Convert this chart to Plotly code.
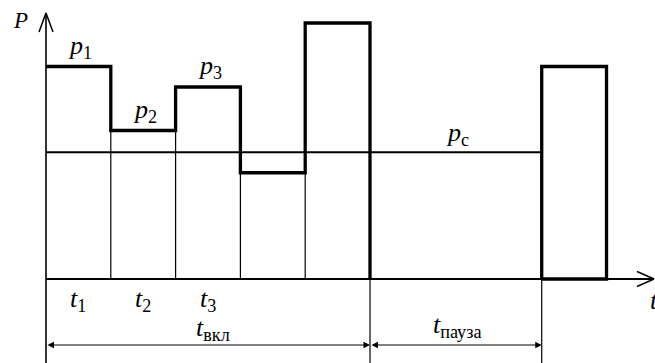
import plotly.graph_objects as go

# ---------------- data ----------------
stage_names = ["1", "2", "3", "4", "5"]
stage_durations = [1.0, 1.0, 1.0, 1.0, 1.0]
stage_powers = [8.3, 5.8, 7.5, 4.15, 10.0]
labelled_stages = ["1", "2", "3"]
pause_duration = 2.65
next_duration = 1.0
next_power = 8.3
p_c = 4.95
label_on = "вкл"
label_pause = "пауза"

# ---------------- geometry ----------------
W, H = 655, 363
X0_PX, Y0_PX = 46, 279      # origin position in the picture
XS, YS = 64.8, 25.6         # px per unit
x_range = [-X0_PX / XS, (W - X0_PX) / XS]
y_range = [-(H - Y0_PX) / YS, Y0_PX / YS]
dx = lambda px: px / XS
dy = lambda px: px / YS

FONT = "Liberation Serif, Times New Roman, serif"
BLACK = "#000000"

# boundaries
bounds = [0.0]
for d in stage_durations:
    bounds.append(bounds[-1] + d)
t_on_end = bounds[-1]
t_pause_end = t_on_end + pause_duration
t_next_end = t_pause_end + next_duration
x_axis_end = x_range[1] - dx(1)
y_axis_end = y_range[1] - dy(13)

fig = go.Figure()

def line(xs, ys, width, color=BLACK):
    fig.add_trace(go.Scatter(x=xs, y=ys, mode="lines",
                             line=dict(color=color, width=width),
                             hoverinfo="skip", showlegend=False))

# y axis (with extension below the t axis)
line([0, 0], [y_range[0], y_axis_end], 1.6)
# open arrowhead on y axis
line([-dx(7), 0, dx(7)], [y_axis_end - dy(19), y_axis_end, y_axis_end - dy(19)], 1.5)
# t axis
line([0, x_axis_end], [0, 0], 2)
line([x_axis_end - dx(17), x_axis_end, x_axis_end - dx(17)], [dy(7.5), 0, -dy(7.5)], 1.5)

# thin verticals at stage boundaries
for i in range(1, len(stage_powers)):
    line([bounds[i], bounds[i]], [0, min(stage_powers[i - 1], stage_powers[i])], 1.2)
# extension lines
for xv in [t_on_end, t_pause_end]:
    line([xv, xv], [y_range[0], 0], 1.2)

# p_c level
line([0, t_pause_end], [p_c, p_c], 2)

# thick load diagram
sx, sy = [0], [stage_powers[0]]
for i, p in enumerate(stage_powers):
    sx += [bounds[i], bounds[i + 1]]
    sy += [p, p]
sx += [t_on_end]
sy += [0]
line(sx, sy, 3.3)
line([t_pause_end, t_pause_end, t_next_end, t_next_end, t_pause_end],
     [0, next_power, next_power, 0, 0], 3.3)

# dimension arrows
dim_y = -dy(66)
for a, b in [(0, t_on_end), (t_on_end, t_pause_end)]:
    fig.add_annotation(x=b, y=dim_y, ax=a, ay=dim_y, xref="x", yref="y",
                       axref="x", ayref="y", text="", showarrow=True,
                       arrowhead=2, startarrowhead=2, arrowside="end+start",
                       arrowsize=1.3, startarrowsize=1.3, arrowwidth=1, arrowcolor=BLACK)

def label(x, y, text, size, xshift=0, yshift=0):
    fig.add_annotation(x=x, y=y, text=text, showarrow=False, xref="x", yref="y",
                       xanchor="center", yanchor="middle", xshift=xshift, yshift=yshift,
                       font=dict(family=FONT, size=size, color=BLACK))

# stage labels
for i, name in enumerate(stage_names):
    mid = (bounds[i] + bounds[i + 1]) / 2
    if name in labelled_stages:
        label(mid, stage_powers[i], f"<i>p</i><sub>{name}</sub>", 26, xshift=2, yshift=20)
        label(mid, 0, f"<i>t</i><sub>{name}</sub>", 26, xshift=0, yshift=-21)

label((t_on_end + t_pause_end) / 2, p_c, "<i>p</i><sub>c</sub>", 26, xshift=2, yshift=18)
label(t_on_end / 2, dim_y, f"<i>t</i><sub>{label_on}</sub>", 26, xshift=5, yshift=16)
label((t_on_end + t_pause_end) / 2, dim_y, f"<i>t</i><sub>{label_pause}</sub>", 26, xshift=1, yshift=19)
label(0, y_axis_end, "<i>P</i>", 23, xshift=-26, yshift=-7)
label(x_axis_end, 0, "<i>t</i>", 26, xshift=0, yshift=-21)

fig.update_layout(
    width=W, height=H,
    margin=dict(l=0, r=0, t=0, b=0),
    paper_bgcolor="white", plot_bgcolor="white",
    xaxis=dict(range=x_range, visible=False, fixedrange=True),
    yaxis=dict(range=y_range, visible=False, fixedrange=True),
    showlegend=False,
)
fig.write_html("out.html", config={"displayModeBar": False},
               post_script="document.body.style.margin='0';document.body.style.overflow='hidden';")
